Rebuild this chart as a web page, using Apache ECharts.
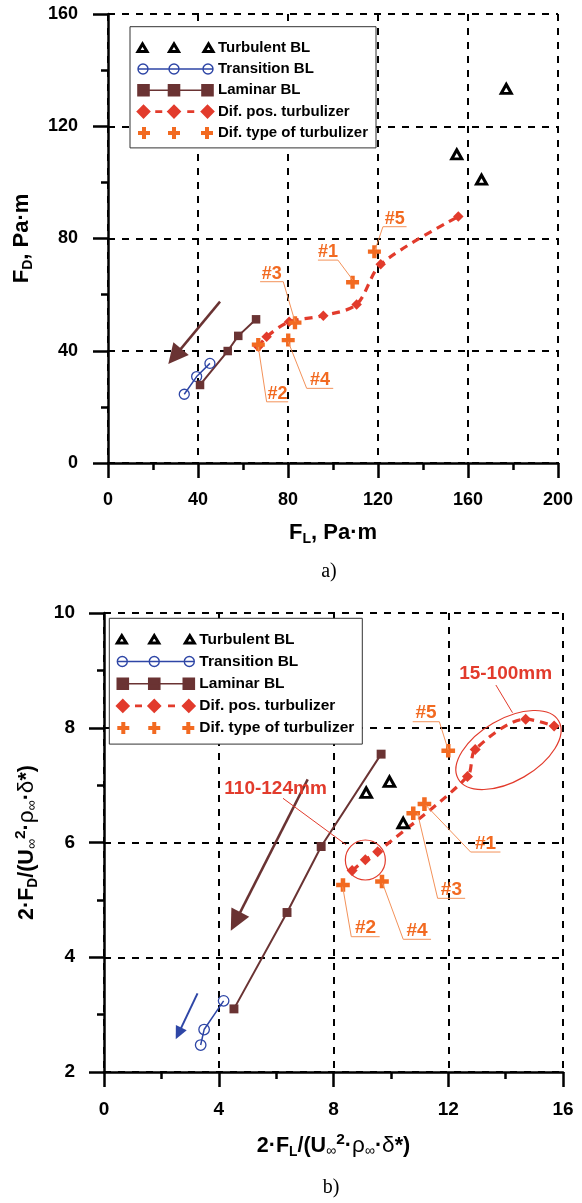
<!DOCTYPE html>
<html>
<head>
<meta charset="utf-8">
<script src="https://cdn.jsdelivr.net/npm/echarts@6/dist/echarts.min.js"></script>
<style>
html, body { margin: 0; padding: 0; background: #fff; }
#chart { width: 582px; height: 1203px; }
</style>
</head>
<body>
<div id="chart"></div>
<script>
const FONT = '"Liberation Sans", Arial, sans-serif';
const BLUE = '#2e46a6';
const BROWN = '#6a3333';
const RED = '#e23b2c';
const ORANGE = '#f26a21';
const LEADER = '#f3925a';

const seriesNames = ['Turbulent BL', 'Transition BL', 'Laminar BL', 'Dif. pos. turbulizer', 'Dif. type of turbulizer'];

// a) F_D vs F_L, Pa·m
const xTicksA = [0, 40, 80, 120, 160, 200];
const yTicksA = [0, 40, 80, 120, 160];
const turbulentA = [[155, 110], [166, 101], [177, 133.3]];
const transitionA = [[33.9, 24.5], [39.4, 30.8], [45.3, 35.5]];
const laminarA = [[40.9, 27.8], [53.2, 39.9], [57.9, 45.3], [65.8, 51.2]];
const difPosA = [[66.8, 41.4], [70.5, 45], [80.5, 50.3], [95.7, 52.5], [110.5, 56.5], [121.2, 70.8], [155.7, 87.8]];
const difTypeA = [[66.8, 42.2], [80.1, 43.8], [83.1, 50.0], [108.7, 64.4], [118.4, 75.3]];
// label, underline x1, x2, underline y, leader side, target
const calloutsA = [
  ['#3', 67.6, 77.9, 64.6, 'right', [83.1, 50.4]],
  ['#1', 93.3, 102.2, 72.3, 'right', [108.8, 65.2]],
  ['#5', 122.2, 132.7, 84.2, 'left', [118.7, 75.9]],
  ['#2', 70.5, 80.1, 21.8, 'left', [66.8, 41.4]],
  ['#4', 88.3, 100.1, 26.6, 'left', [80.1, 43.2]]
];
const arrowA = [[49.8, 57.5], [26.8, 35.3]];

// b) normalised
const xTicksB = [0, 4, 8, 12, 16];
const yTicksB = [2, 4, 6, 8, 10];
const turbulentB = [[9.14, 6.87], [9.95, 7.06], [10.43, 6.34]];
const transitionB = [[3.37, 2.47], [3.49, 2.74], [4.17, 3.24]];
const laminarB = [[4.53, 3.10], [6.38, 4.78], [7.57, 5.93], [9.66, 7.54]];
const difPosB = [[8.65, 5.51], [9.11, 5.70], [9.54, 5.84], [12.67, 7.15], [12.94, 7.62], [14.70, 8.15], [15.69, 8.03]];
const difTypeB = [[8.33, 5.26], [9.69, 5.32], [10.78, 6.51], [11.17, 6.67], [12.0, 7.60]];
const calloutsB = [
  ['#5', 10.76, 11.69, 8.105, 'right', [12.0, 7.61]],
  ['#1', 12.78, 13.82, 5.834, 'left', [11.22, 6.65]],
  ['#3', 11.63, 12.59, 5.027, 'left', [10.93, 6.51]],
  ['#2', 8.62, 9.61, 4.358, 'left', [8.32, 5.23]],
  ['#4', 10.43, 11.40, 4.313, 'left', [9.71, 5.29]]
];
const arrowBrownB = [[7.1, 7.1], [4.42, 4.46]];
const arrowBlueB = [[3.26, 3.37], [2.50, 2.57]];
// text, text pos, leader from, leader to
const rangeNotes = [
  ['110-124mm', [5.98, 6.945], [6.24, 6.77], [8.44, 5.96]],
  ['15-100mm', [14.0, 8.937], [13.66, 8.745], [14.24, 8.262]]
];
const circleNote = [9.11, 5.695];
const ellipseNote = [14.10, 7.612];

const PLUS = 'path://M4,0L8,0L8,4L12,4L12,8L8,8L8,12L4,12L4,8L0,8L0,4L4,4Z';

function legendData(w) {
  const cs = h => [h, w * 0.48, w - h];
  const tri = cs(4.5).map(c => `M${c - 4.5},9.5L${c},2L${c + 4.5},9.5Z`).join(' ');
  const circ = `M0,6L${w},6 ` + cs(5).map(c => `M${c + 5},6A5,5,0,1,1,${c - 5},6A5,5,0,1,1,${c + 5},6Z`).join(' ');
  const sq = cs(5.5);
  const sqr = sq.map(c => `M${c - 5.5},0.5L${c + 5.5},0.5L${c + 5.5},11.5L${c - 5.5},11.5Z`).join(' ') +
    ` M${sq[0]},6L${sq[2]},6`;
  const dm = cs(5.5);
  const dia = dm.map(c => `M${c - 5.5},6L${c},0.5L${c + 5.5},6L${c},11.5Z`).join(' ') +
    ` M${(dm[0] + dm[1]) / 2 - 3.5},6L${(dm[0] + dm[1]) / 2 + 3.5},6 M${(dm[1] + dm[2]) / 2 - 3.5},6L${(dm[1] + dm[2]) / 2 + 3.5},6`;
  const pl = cs(6).map(c => {
    const x = c - 6;
    return `M${x + 4},0L${x + 8},0L${x + 8},4L${x + 12},4L${x + 12},8L${x + 8},8L${x + 8},12L${x + 4},12L${x + 4},8L${x},8L${x},4L${x + 4},4Z`;
  }).join(' ');
  return [
    { name: seriesNames[0], icon: 'path://' + tri, itemStyle: { color: '#fff', borderColor: '#000', borderWidth: 3, opacity: 1 } },
    { name: seriesNames[1], icon: 'path://' + circ, itemStyle: { color: 'rgba(0,0,0,0)', borderColor: BLUE, borderWidth: 1.4 } },
    { name: seriesNames[2], icon: 'path://' + sqr, itemStyle: { color: BROWN, borderColor: BROWN, borderWidth: 1.6 } },
    { name: seriesNames[3], icon: 'path://' + dia, itemStyle: { color: RED, borderColor: RED, borderWidth: 2.6 } },
    { name: seriesNames[4], icon: 'path://' + pl, itemStyle: { color: ORANGE, borderWidth: 0, opacity: 1 } }
  ];
}

function legendFor(left, top, w, fontSize, gap, padding) {
  return {
    left: left, top: top, orient: 'vertical', selectedMode: false,
    itemWidth: w, itemHeight: 12, itemGap: gap, padding: padding,
    borderColor: '#333', borderWidth: 1, borderRadius: 0, backgroundColor: '#fff',
    textStyle: { fontFamily: FONT, fontWeight: 'bold', fontSize: fontSize, color: '#000' },
    data: legendData(w)
  };
}

function axisFor(gi, ticks, fs, margin, name, nameGap, nameFs) {
  return {
    type: 'value', gridIndex: gi,
    min: ticks[0], max: ticks[ticks.length - 1], interval: ticks[1] - ticks[0],
    axisLine: { onZero: false, lineStyle: { color: '#000', width: 2.5 } },
    axisTick: { length: 15, lineStyle: { color: '#000', width: 2.5 } },
    minorTick: { show: true, splitNumber: 2, length: 7, lineStyle: { color: '#000', width: 2.5 } },
    splitLine: { show: true, lineStyle: { color: '#000', width: 2, type: [7, 7] } },
    axisLabel: { margin: margin, color: '#000', fontSize: fs, fontWeight: 'bold', fontFamily: FONT },
    name: name, nameLocation: 'middle', nameGap: nameGap,
    nameTextStyle: {
      color: '#000',
      rich: {
        b: { fontSize: nameFs, fontWeight: 'bold', fontFamily: FONT, color: '#000' },
        s: { fontSize: nameFs * 0.64, fontWeight: 'bold', fontFamily: FONT, color: '#000', padding: [nameFs * 0.55, 0, 0, 0] },
        i: { fontSize: nameFs * 0.66, fontFamily: FONT, color: '#000', padding: [nameFs * 0.5, 0, 0, 0] },
        p: { fontSize: nameFs * 0.72, fontWeight: 'bold', fontFamily: FONT, color: '#000', padding: [0, 0, nameFs * 0.6, 0] },
        g: { fontSize: nameFs * 1.05, fontFamily: FONT, color: '#000' }
      }
    }
  };
}

function seriesFor(gi, turb, trans, lam, pos, typ, k) {
  const common = { xAxisIndex: gi, yAxisIndex: gi };
  return [
    Object.assign({ name: seriesNames[0], type: 'scatter', data: turb, symbol: 'triangle', symbolSize: [10 * k, 9 * k],
      itemStyle: { color: '#fff', borderColor: '#000', borderWidth: 3, opacity: 1 }, z: 5 }, common),
    Object.assign({ name: seriesNames[1], type: 'line', data: trans, symbol: 'circle', symbolSize: 10 * k,
      itemStyle: { color: 'rgba(0,0,0,0)', borderColor: BLUE, borderWidth: 1.3 }, lineStyle: { color: BLUE, width: 1.5 } }, common),
    Object.assign({ name: seriesNames[2], type: 'line', data: lam, symbol: 'rect', symbolSize: 8.5 * k,
      itemStyle: { color: BROWN }, lineStyle: { color: BROWN, width: 2 } }, common),
    Object.assign({ name: seriesNames[3], type: 'line', data: pos, symbol: 'diamond', symbolSize: 10.5 * k, smooth: 0.3,
      itemStyle: { color: RED }, lineStyle: { color: RED, width: 3.2, type: [8, 6] } }, common),
    Object.assign({ name: seriesNames[4], type: 'scatter', data: typ, symbol: PLUS, symbolSize: 13 * k,
      itemStyle: { color: ORANGE, opacity: 1 }, z: 6 }, common)
  ];
}

const chart = echarts.init(document.getElementById('chart'), null, { renderer: 'canvas' });

const option = {
  animation: false,
  backgroundColor: '#fff',
  grid: [
    { left: 108, top: 14, width: 450, height: 449 },
    { left: 104, top: 613, width: 459, height: 459 }
  ],
  xAxis: [
    axisFor(0, xTicksA, 18, 28, '{b|F}{s|L}{b|, Pa·m}', 57, 22),
    axisFor(1, xTicksB, 19, 28, '{b|2·F}{s|L}{b|/(U}{i|∞}{p|2}{b|·}{g|ρ}{i|∞}{b|·}{g|δ}{b|*)}', 60, 21.5)
  ],
  yAxis: [
    axisFor(0, yTicksA, 18, 30, '{b|F}{s|D}{b|, Pa·m}', 73, 22),
    axisFor(1, yTicksB, 19, 29, '{b|2·F}{s|D}{b|/(U}{i|∞}{p|2}{b|·}{g|ρ}{i|∞}{b|·}{g|δ}{b|*)}', 63, 21.5)
  ],
  legend: [
    legendFor(130, 26.7, 75, 15, 6.3, [13.5, 8, 7.5, 6.5]),
    legendFor(109.3, 618.3, 77, 15.5, 6.2, [13, 8, 8, 6.5])
  ],
  series: [].concat(
    seriesFor(0, turbulentA, transitionA, laminarA, difPosA, difTypeA, 1),
    seriesFor(1, turbulentB, transitionB, laminarB, difPosB, difTypeB, 1.05)
  )
};
chart.setOption(option);

function px(gi, p) {
  return chart.convertToPixel({ gridIndex: gi }, p);
}

function callout(gi, c, fs) {
  const a = px(gi, [c[1], c[3]]);
  const b = px(gi, [c[2], c[3]]);
  const t = px(gi, c[5]);
  const pts = c[4] === 'left' ? [t, a, b] : [t, b, a];
  return [
    { type: 'polyline', shape: { points: pts }, style: { stroke: LEADER, lineWidth: 1, fill: 'none' }, z: 10 },
    { type: 'text', x: (a[0] + b[0]) / 2, y: a[1] + 1, z: 10,
      style: { text: c[0], fill: ORANGE, font: 'bold ' + fs + 'px ' + FONT, textAlign: 'center', align: 'center', textVerticalAlign: 'bottom', verticalAlign: 'bottom' } }
  ];
}

function arrow(gi, a, color, head, width, lw) {
  const s = px(gi, a[0]);
  const t = px(gi, a[1]);
  const dx = t[0] - s[0], dy = t[1] - s[1];
  const len = Math.sqrt(dx * dx + dy * dy);
  const ux = dx / len, uy = dy / len;
  const bx = t[0] - ux * head, by = t[1] - uy * head;
  return [
    { type: 'line', shape: { x1: s[0], y1: s[1], x2: bx + ux * 2, y2: by + uy * 2 }, style: { stroke: color, lineWidth: lw }, z: 10 },
    { type: 'polygon', shape: { points: [t, [bx - uy * width / 2, by + ux * width / 2], [bx + uy * width / 2, by - ux * width / 2]] },
      style: { fill: color }, z: 10 }
  ];
}

let graphics = [];
calloutsA.forEach(c => { graphics = graphics.concat(callout(0, c, 18)); });
calloutsB.forEach(c => { graphics = graphics.concat(callout(1, c, 19)); });
graphics = graphics.concat(arrow(0, arrowA, BROWN, 20, 20, 2.5));
graphics = graphics.concat(arrow(1, arrowBrownB, BROWN, 21, 20, 2.5));
graphics = graphics.concat(arrow(1, arrowBlueB, BLUE, 13, 12, 2));

rangeNotes.forEach(n => {
  const p = px(1, n[1]);
  const a = px(1, n[2]);
  const b = px(1, n[3]);
  graphics.push({ type: 'text', x: p[0], y: p[1], z: 10,
    style: { text: n[0], fill: RED, font: 'bold 19px ' + FONT, textAlign: 'center', align: 'center', textVerticalAlign: 'middle', verticalAlign: 'middle' } });
  graphics.push({ type: 'line', shape: { x1: a[0], y1: a[1], x2: b[0], y2: b[1] }, style: { stroke: RED, lineWidth: 1 }, z: 10 });
});
const cc = px(1, circleNote);
graphics.push({ type: 'circle', shape: { cx: cc[0], cy: cc[1], r: 20 }, style: { stroke: RED, lineWidth: 1.2, fill: 'none' }, z: 10 });
const ec = px(1, ellipseNote);
graphics.push({ type: 'ellipse', x: ec[0], y: ec[1], rotation: 30 * Math.PI / 180, shape: { cx: 0, cy: 0, rx: 58, ry: 31 },
  style: { stroke: RED, lineWidth: 1.2, fill: 'none' }, z: 10 });

graphics.push({ type: 'text', x: 329, y: 572, style: { text: 'a)', fill: '#000', font: '20px "Liberation Serif", serif', textAlign: 'center', align: 'center', textVerticalAlign: 'middle', verticalAlign: 'middle' } });
graphics.push({ type: 'text', x: 331, y: 1188, style: { text: 'b)', fill: '#000', font: '20px "Liberation Serif", serif', textAlign: 'center', align: 'center', textVerticalAlign: 'middle', verticalAlign: 'middle' } });

chart.setOption({ graphic: graphics });
</script>
</body>
</html>
